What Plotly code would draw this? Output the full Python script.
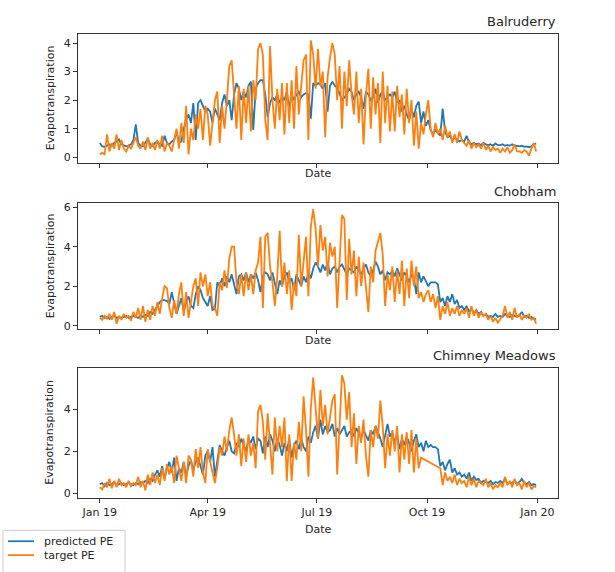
import pandas as pd
import plotly.graph_objects as go

# ---------------- data (every 2nd day of 2019) ----------------
dates = pd.date_range("2019-01-01", "2019-12-31", freq="2D")

sites = ["Balruderry", "Chobham", "Chimney Meadows"]

bal_pred = [
    0.5, 0.38, 0.36, 0.42, 0.45, 0.4, 0.5, 0.55, 0.62, 0.45, 0.4, 0.38, 0.4, 0.45, 0.6, 1.15,
    0.5, 0.4, 0.38, 0.5, 0.65, 0.45, 0.4, 0.5, 0.55, 0.45, 0.4, 0.75, 0.5, 0.45,
    0.55, 0.6, 0.9, 0.5, 0.55, 1.0, 1.3, 1.5, 1.2, 1.9, 0.6, 1.9, 2.0, 1.8, 1.6,
    1.7, 1.6, 1.2, 1.7, 1.5, 1.3, 1.9, 2.2, 1.8, 2.0, 1.3, 2.2, 2.6, 2.4, 2.0,
    2.3, 2.1, 2.5, 2.65, 0.95, 2.4, 2.6, 2.7, 2.7, 2.2, 1.4, 1.9, 2.1, 2.0, 2.2, 1.9,
    2.1, 2.0, 2.3, 1.7, 2.2, 2.0, 2.2, 2.3, 2.1, 2.2, 2.25, 2.2, 1.35, 2.6, 2.5,
    2.6, 2.55, 2.4, 2.6, 1.6, 2.5, 2.65, 2.5, 2.45, 2.2, 2.0, 2.1, 2.2, 2.4, 2.3,
    2.0, 2.2, 2.3, 2.1, 1.7, 2.3, 2.2, 2.0, 2.1, 2.4, 1.9, 2.2, 2.3, 2.0, 2.1, 2.2,
    2.1, 2.3, 1.9, 2.0, 1.6, 1.8, 1.5, 1.3, 1.7, 1.4, 1.8, 1.95, 1.2, 1.6, 1.1,
    1.3, 0.95, 0.8, 0.95, 0.85, 0.75, 1.7, 0.9, 0.7, 0.75, 0.6, 0.7, 0.6, 0.55, 0.6,
    0.55, 0.75, 0.5, 0.45, 0.5, 0.45, 0.48, 0.42, 0.5, 0.45, 0.42, 0.45, 0.4, 0.48, 0.42,
    0.42, 0.45, 0.4, 0.43, 0.4, 0.45, 0.38, 0.4, 0.38, 0.4, 0.36, 0.38, 0.35, 0.38, 0.45, 0.48,
]
bal_target = [
    0.1, 0.15, 0.1, 0.8, 0.2, 0.5, 0.3, 0.8, 0.25, 0.6, 0.3, 0.2, 0.4, 0.3, 0.5, 0.7,
    0.4, 0.3, 0.55, 0.25, 0.7, 0.3, 0.5, 0.25, 0.6, 0.3, 0.75, 0.2, 0.5, 0.4,
    0.2, 0.6, 1.0, 0.3, 1.2, 0.5, 1.8, 0.1, 1.0, 0.6, 1.5, 1.0, 1.7, 0.6, 1.8,
    1.5, 0.4, 1.2, 2.0, 2.3, 0.5, 1.8, 1.0, 2.0, 3.2, 3.4, 2.0, 1.0, 2.5, 0.6,
    2.4, 1.2, 2.5, 0.9, 2.7, 2.0, 3.8, 4.0, 3.6, 1.3, 0.6, 3.9, 2.0, 1.0, 2.4, 1.3,
    2.6, 0.8, 2.6, 1.2, 2.7, 1.0, 3.2, 1.5, 2.5, 3.4, 3.6, 0.6, 4.1, 3.6, 2.4,
    3.8, 2.5, 3.0, 0.7, 2.8, 3.5, 4.0, 3.6, 2.0, 3.2, 1.0, 3.0, 1.8, 3.4, 2.2,
    1.5, 3.0, 1.2, 2.4, 0.45, 2.2, 3.1, 1.0, 2.8, 1.5, 2.6, 0.5, 3.0, 1.2, 2.5, 0.9,
    2.3, 0.9, 2.5, 1.4, 2.2, 0.8, 2.4, 1.2, 2.0, 0.4, 1.6, 0.3, 1.2, 0.8, 1.5,
    2.0, 1.0, 0.7, 1.2, 0.8, 1.0, 0.6, 1.1, 0.7, 0.9, 0.5, 0.8, 0.5, 0.9, 0.6,
    0.5, 0.4, 0.6, 0.3, 0.5, 0.35, 0.45, 0.3, 0.5, 0.25, 0.4, 0.2, 0.35, 0.25, 0.3,
    0.15, 0.3, 0.2, 0.35, 0.15, 0.25, 0.45, 0.2, 0.2, 0.15, 0.25, 0.2, 0.05, 0.3, 0.5, 0.2,
]
cho_pred = [
    0.45, 0.5, 0.4, 0.45, 0.35, 0.45, 0.5, 0.4, 0.45, 0.4, 0.45, 0.5, 0.4, 0.45, 0.5, 0.45,
    0.4, 0.5, 0.45, 0.55, 0.5, 0.7, 0.6, 0.8, 1.0, 1.2, 1.3, 1.3, 1.25, 1.1,
    1.7, 1.2, 0.6, 1.0, 1.4, 0.7, 1.2, 1.5, 1.0, 0.9, 1.6, 2.0, 1.8, 1.4, 1.2,
    1.0, 1.5, 0.8, 0.85, 2.2, 2.0, 2.4, 2.0, 2.5, 2.2, 2.6, 2.1, 1.6, 2.5, 2.6,
    2.3, 2.7, 2.2, 2.6, 2.4, 2.7, 2.3, 1.7, 2.5, 2.7, 2.6, 2.3, 2.7, 2.2, 1.6, 2.3,
    2.0, 2.5, 2.7, 2.2, 2.4, 1.8, 2.6, 2.3, 2.0, 2.5, 2.2, 2.7, 2.4, 2.9, 3.2,
    3.0, 2.7, 3.1, 2.8, 3.2, 2.6, 2.9, 3.0, 2.7, 3.0, 3.1, 2.8, 2.6, 2.9, 2.8,
    2.7, 3.0, 2.8, 2.6, 2.9, 3.1, 2.7, 2.5, 2.8, 3.25, 3.0, 2.6, 2.8, 2.3, 2.7, 2.6,
    2.8, 2.5, 2.9, 2.6, 2.3, 2.7, 2.5, 2.2, 2.6, 2.4, 1.6, 2.7, 2.2, 2.5, 2.2,
    2.0, 2.2, 2.2, 2.2, 2.1, 1.2, 1.4, 1.0, 1.5, 1.2, 1.6, 1.1, 1.3, 0.9, 1.0,
    0.8, 1.0, 0.7, 0.9, 0.6, 0.8, 0.6, 0.7, 0.5, 0.6, 0.45, 0.5, 0.45, 0.6, 0.45,
    0.5, 0.45, 0.6, 0.5, 0.45, 0.55, 0.5, 0.45, 0.5, 0.7, 0.45, 0.5, 0.4, 0.45, 0.35, 0.35,
]
cho_target = [
    0.4, 0.3, 0.5, 0.35, 0.6, 0.3, 0.7, 0.1, 0.5, 0.3, 0.6, 0.4, 0.5, 0.25, 0.7, 0.4,
    0.9, 0.3, 1.0, 0.2, 0.8, 0.3, 1.0, 0.5, 1.2, 0.6, 1.4, 2.0, 1.9, 0.9,
    0.4, 1.3, 0.6, 1.6, 2.2, 0.5, 1.7, 0.4, 1.2, 2.0, 2.4, 1.0, 2.7, 2.0, 2.6,
    1.5, 2.2, 1.0, 0.9, 0.5, 2.2, 1.8, 2.8, 1.9, 3.4, 4.0, 4.0, 2.2, 1.6, 2.6,
    1.5, 2.7, 1.8, 2.6, 1.6, 2.8, 3.2, 4.5, 0.9, 4.5, 4.7, 3.0, 2.2, 1.0, 2.5, 4.8,
    2.0, 3.2, 1.6, 2.8, 0.8, 2.2, 1.5, 4.6, 2.0, 3.4, 4.5, 1.5, 5.0, 5.9, 4.9,
    3.0, 5.1, 3.8, 4.5, 2.5, 4.2, 3.5, 4.0, 0.9, 3.3, 5.6, 5.4, 1.3, 4.4, 2.6,
    3.8, 1.5, 3.5, 2.0, 3.2, 1.8, 0.7, 3.0, 2.2, 3.8, 4.3, 4.7, 3.6, 1.0, 2.6, 1.8,
    3.0, 1.2, 2.8, 1.6, 3.3, 1.0, 2.9, 1.4, 3.3, 2.0, 3.0, 1.4, 1.7, 1.2, 1.6,
    1.8, 1.2, 1.6, 0.9, 1.5, 0.3, 1.0, 0.6, 1.2, 0.5, 0.9, 0.6, 1.0, 0.5, 0.8,
    0.6, 0.9, 0.4, 1.0, 0.5, 0.8, 0.4, 0.7, 0.5, 0.6, 0.3, 0.5, 0.2, 0.4, 0.15,
    0.3, 0.5, 1.0, 0.4, 0.7, 0.3, 0.9, 0.4, 0.6, 0.3, 0.5, 0.4, 0.6, 0.3, 0.4, 0.1,
]
chi_pred = [
    0.45, 0.5, 0.35, 0.5, 0.4, 0.45, 0.55, 0.4, 0.45, 0.5, 0.4, 0.45, 0.5, 0.45, 0.4, 0.5,
    0.45, 0.55, 0.5, 0.6, 0.5, 0.7, 0.6, 0.9, 1.1, 0.8, 1.3, 0.7, 1.2, 1.5,
    1.0, 1.7, 0.6, 1.2, 1.0, 1.5, 0.8, 1.3, 1.6, 1.1, 1.5, 1.7, 1.3, 0.9, 1.8,
    2.0, 1.5, 2.2, 0.8, 1.6, 2.3, 2.0, 1.8, 2.2, 2.5, 2.0, 1.9, 2.4, 2.2, 2.6,
    2.3, 2.0, 2.6, 2.4, 2.7, 2.1, 2.6, 2.5, 1.9, 2.7, 2.2, 2.8, 2.5, 2.0, 2.6, 2.3,
    1.8, 2.4, 2.0, 2.6, 1.7, 2.3, 2.5, 2.1, 2.6, 2.2, 2.0, 2.7, 2.4, 2.9, 3.2,
    2.6, 3.5, 2.8, 3.2, 2.9, 3.0, 3.3, 2.7, 3.1, 2.8, 3.0, 3.2, 2.7, 2.9, 3.0,
    2.7, 3.1, 2.8, 2.6, 3.0, 2.7, 2.5, 3.0, 2.8, 3.2, 2.9, 2.6, 2.2, 2.8, 3.3, 2.7,
    2.9, 2.4, 2.8, 2.1, 2.6, 2.3, 2.7, 2.4, 2.0, 2.5, 2.8, 2.2, 2.4, 2.0, 2.5,
    2.2, 2.3, 2.2, 2.2, 2.1, 1.3, 1.5, 1.1, 1.4, 1.6, 1.0, 1.2, 0.9, 1.0, 0.8,
    0.9, 0.7, 1.0, 0.6, 0.8, 0.65, 0.7, 0.5, 0.6, 0.55, 0.5, 0.6, 0.45, 0.55, 0.5,
    0.6, 0.5, 0.7, 0.45, 0.55, 0.5, 0.6, 0.45, 0.55, 0.7, 0.5, 0.45, 0.55, 0.4, 0.45, 0.4,
]
chi_target = [
    0.3, 0.2, 0.5, 0.3, 0.7, 0.25, 0.6, 0.3, 0.7, 0.4, 0.5, 0.3, 0.6, 0.35, 0.5, 0.4,
    0.8, 0.3, 0.6, 0.15, 0.9, 0.4, 1.0, 0.5, 0.9, 0.4, 1.2, 0.6, 1.4, 0.9,
    1.3, 0.5, 1.8, 1.2, 0.6, 1.5, 0.5, 1.8, 1.6, 0.8, 2.1, 1.2, 2.2, 1.0, 0.5,
    2.1, 1.5, 1.0, 0.5, 1.2, 2.2, 1.8, 2.7, 2.0, 3.0, 3.6, 2.8, 1.8, 2.8, 1.3,
    2.6, 1.5, 2.8, 1.8, 2.4, 1.2, 3.9, 4.2, 3.4, 1.6, 3.8, 2.2, 0.9, 3.6, 2.0, 3.2,
    2.2, 3.6, 0.6, 2.8, 0.6, 2.4, 1.6, 3.4, 2.0, 4.6, 3.0, 0.8, 4.0, 5.5, 4.2,
    2.6, 4.9, 3.2, 4.2, 2.8, 3.6, 4.4, 4.7, 0.9, 3.2, 5.6, 5.2, 3.5, 4.8, 2.2,
    3.8, 1.4, 3.2, 2.4, 3.5, 1.8, 0.8, 3.0, 2.2, 3.2, 2.6, 4.4, 3.2, 1.2, 2.8, 1.8,
    3.0, 2.0, 3.2, 1.0, 2.8, 1.6, 2.9, 1.4, 3.0, 1.0, 2.6, 1.2, 1.7, None, None,
    None, None, None, None, None, 1.2, 0.4, 1.0, 0.6, 0.8, 0.5, 0.9, 0.4, 0.7, 0.5,
    0.6, 0.3, 0.8, 0.4, 0.7, 0.3, 0.6, 0.5, 0.4, 0.7, 0.3, 0.5, 0.2, 0.4, 0.3,
    0.5, 0.3, 0.8, 0.4, 0.6, 0.3, 0.7, 0.4, 0.5, 0.2, 0.6, 0.3, 0.5, 0.2, 0.35, 0.3,
]

predicted = [bal_pred, cho_pred, chi_pred]
target = [bal_target, cho_target, chi_target]

tick_dates = ["2019-01-01", "2019-04-01", "2019-07-01", "2019-10-01", "2020-01-01"]
tick_labels = ["Jan 19", "Apr 19", "Jul 19", "Oct 19", "Jan 20"]
y_ticks = [[0, 1, 2, 3, 4], [0, 2, 4, 6], [0, 2, 4]]
y_ranges = [[-0.19, 4.33], [-0.17, 6.2], [-0.19, 5.95]]

# ---------------- layout helpers ----------------
W, H = 615, 572
BLUE, ORANGE = "#1f77b4", "#ff7f0e"
FONT = "DejaVu Sans"
TXT = "#262626"
x_left, x_right = 78, 558
boxes = [(32, 162), (203, 330), (369, 500)]   # pixel top, bottom of each axes

def py(p):
    return 1 - p / H

def px(p):
    return p / W

fig = go.Figure()
for k in range(3):
    xa = "x" if k == 0 else f"x{k+1}"
    ya = "y" if k == 0 else f"y{k+1}"
    fig.add_trace(go.Scatter(x=dates, y=predicted[k], mode="lines", name="predicted PE",
                             line=dict(color=BLUE, width=1.8), xaxis=xa, yaxis=ya,
                             showlegend=False, connectgaps=True))
    fig.add_trace(go.Scatter(x=dates, y=target[k], mode="lines", name="target PE",
                             line=dict(color=ORANGE, width=1.8), xaxis=xa, yaxis=ya,
                             showlegend=False, connectgaps=True))

axis_common = dict(showline=True, mirror=True, linecolor="#333333", linewidth=1,
                   ticks="outside", ticklen=4, tickcolor="#333333", showgrid=False,
                   zeroline=False, tickfont=dict(family=FONT, size=11, color=TXT))

layout = dict(width=W, height=H, margin=dict(l=0, r=0, t=0, b=0),
              paper_bgcolor="white", plot_bgcolor="white", showlegend=False,
              font=dict(family=FONT, size=11, color=TXT))
annotations = []
for k in range(3):
    top, bot = boxes[k]
    xkey = "xaxis" if k == 0 else f"xaxis{k+1}"
    ykey = "yaxis" if k == 0 else f"yaxis{k+1}"
    layout[xkey] = dict(axis_common, type="date", domain=[px(x_left), px(x_right)],
                        range=["2018-12-13 19:00", "2020-01-18 05:00"],
                        tickvals=tick_dates, ticktext=tick_labels,
                        showticklabels=(k == 2),
                        anchor="y" if k == 0 else f"y{k+1}")
    layout[ykey] = dict(axis_common, domain=[py(bot), py(top)], range=y_ranges[k],
                        tickvals=y_ticks[k],
                        anchor="x" if k == 0 else f"x{k+1}")
    annotations.append(dict(text=sites[k], xref="paper", yref="paper",
                            x=px(x_right), y=py(top - 12), xanchor="right", yanchor="middle",
                            showarrow=False, font=dict(family=FONT, size=13, color=TXT)))
    annotations.append(dict(text="Evapotranspiration", xref="paper", yref="paper",
                            x=px(50), y=py((top + bot) / 2), xanchor="center", yanchor="middle",
                            textangle=-90, showarrow=False,
                            font=dict(family=FONT, size=11, color=TXT)))
    date_y = bot + 11 if k < 2 else bot + 32
    annotations.append(dict(text="Date", xref="paper", yref="paper",
                            x=px((x_left + x_right) / 2), y=py(date_y), xanchor="center",
                            yanchor="middle", showarrow=False,
                            font=dict(family=FONT, size=11, color=TXT)))

# legend (lower left)
shapes = [dict(type="rect", xref="paper", yref="paper", x0=px(3), x1=px(125),
               y0=py(578), y1=py(533), line=dict(color="#cccccc", width=1),
               fillcolor="rgba(255,255,255,0.8)", layer="above")]
for name, color, yy in [("predicted PE", BLUE, 544), ("target PE", ORANGE, 558)]:
    shapes.append(dict(type="line", xref="paper", yref="paper", x0=px(8), x1=px(34),
                       y0=py(yy), y1=py(yy), line=dict(color=color, width=1.8), layer="above"))
    annotations.append(dict(text=name, xref="paper", yref="paper", x=px(42), y=py(yy),
                            xanchor="left", yanchor="middle", showarrow=False,
                            font=dict(family=FONT, size=11, color=TXT)))

layout["annotations"] = annotations
layout["shapes"] = shapes
fig.update_layout(**layout)
fig.write_html("out.html", config={"displayModeBar": False},
               post_script="document.body.style.margin='0';document.body.style.overflow='hidden';")
